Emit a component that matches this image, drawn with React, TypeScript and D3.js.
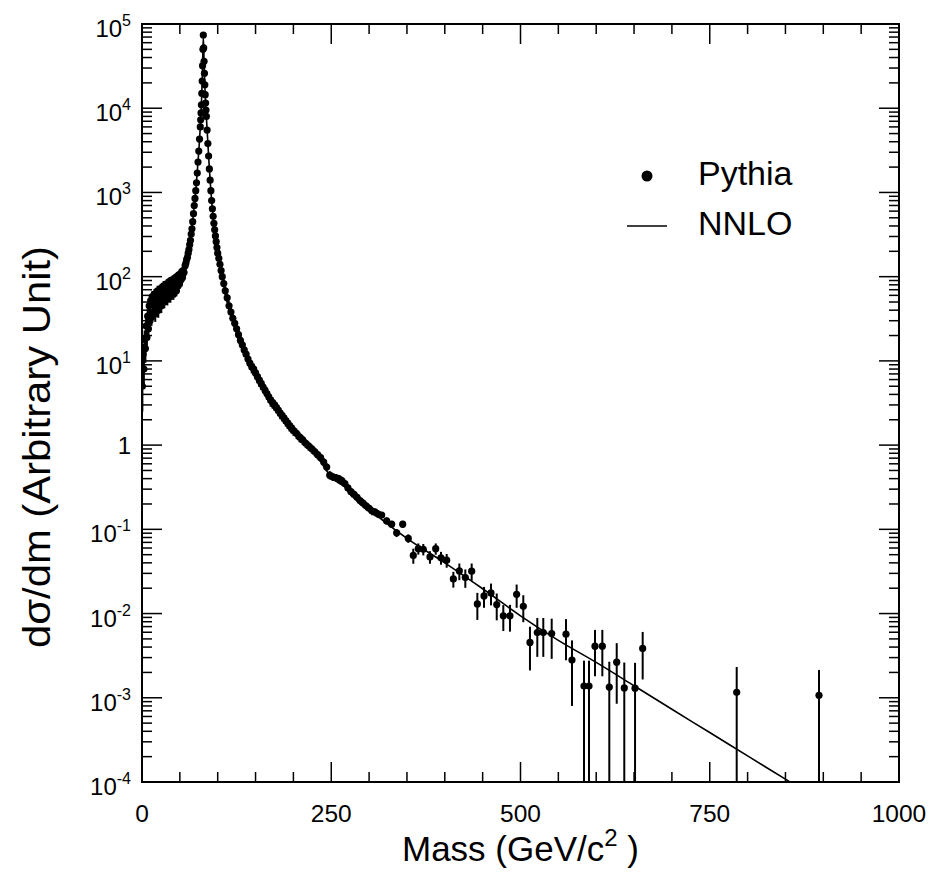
import React from 'react';
import * as d3 from 'd3';

// ---------- data (mass GeV, dσ/dm, error) ----------
const lowRegion: [number, number, number][] = [
  [0.5, 5, 2.5], [1.5, 12, 4], [2.5, 8, 3], [3.5, 18, 5], [4.5, 14, 4.5],
  [5.5, 26, 6], [6.5, 19, 5], [7.5, 34, 7], [8.5, 24, 6], [9.5, 45, 8],
  [10.5, 30, 6.5], [11.5, 52, 8.5], [12.5, 33, 7], [13.5, 58, 9], [14.5, 38, 7.5],
  [15.5, 47, 8], [16.5, 62, 9.5], [17.5, 36, 7], [18.5, 55, 9], [19.5, 44, 8],
  [20.5, 68, 10], [21.5, 40, 7.5], [22.5, 57, 9], [23.5, 48, 8], [24.5, 72, 10],
  [25.5, 45, 8], [26.5, 63, 9.5], [27.5, 52, 8.5], [28.5, 78, 10.5], [29.5, 50, 8],
  [30.5, 66, 9.5], [31.5, 56, 9], [32.5, 82, 11], [33.5, 54, 8.5], [34.5, 70, 10],
  [35.5, 60, 9], [36.5, 88, 11], [37.5, 58, 9], [38.5, 76, 10], [39.5, 64, 9.5],
  [40.5, 92, 11.5], [41.5, 62, 9], [42.5, 80, 10.5], [43.5, 70, 10], [44.5, 98, 12],
  [45.5, 68, 9.5], [46.5, 90, 11], [47.5, 78, 10.5], [48.5, 105, 12], [49.5, 82, 10.5],
  [50.5, 100, 11.5], [51.5, 92, 11], [52.5, 115, 12.5], [53.5, 98, 11.5], [54.5, 118, 12.5],
  [55.5, 112, 12],
];

const peakRegion: [number, number, number][] = [
  [57, 135, 11], [58, 145, 12], [59, 160, 12], [60, 170, 13], [61, 190, 14],
  [62, 210, 14], [63, 240, 15], [64, 270, 16], [65, 320, 18], [66, 370, 19],
  [67, 450, 21], [68, 560, 24], [69, 700, 26], [70, 850, 29], [71, 1050, 32],
  [72, 1300, 36], [73, 1700, 41], [74, 2300, 48], [75, 3100, 56], [76, 4300, 66],
  [77, 6000, 77], [77.5, 7300, 85], [78, 8800, 94], [78.5, 11000, 105], [79, 15000, 122],
  [79.5, 21000, 145], [80, 32000, 179], [80.5, 50000, 224], [81, 74000, 272],
  [81.5, 52000, 228], [82, 36000, 190], [82.5, 26000, 161], [83, 19000, 138],
  [83.5, 14500, 120], [84, 11500, 107], [84.5, 9500, 97], [85, 8000, 89],
  [86, 5500, 74], [87, 3800, 62], [88, 2700, 52], [89, 1900, 44], [90, 1400, 37],
  [91, 1050, 32], [92, 800, 28], [93, 640, 25], [94, 520, 23], [95, 430, 21],
  [96, 360, 19], [97, 305, 17], [98, 260, 16], [99, 222, 15], [100, 190, 14],
];

const fallRegion: [number, number, number][] = [
  [101.5, 165, 13], [103, 140, 12], [104.5, 118, 11], [106, 100, 10], [108, 83, 9],
  [110, 68, 8], [112.5, 56, 7], [115, 45, 6], [117.5, 38, 5.5], [120, 32, 5],
  [122.5, 28, 4.5], [125, 24, 4], [127.5, 20.5, 3.5], [130, 17.5, 3], [132.5, 15.5, 2.6],
  [135, 13.5, 2.3], [137.5, 12, 2], [140, 10.5, 1.8], [142.5, 9.4, 1.6], [145, 8.5, 1.4],
  [147.5, 8.0, 1.3], [150, 7.2, 1.2], [152.5, 6.5, 1.1], [155, 5.9, 1.0], [157.5, 5.4, 0.9],
  [160, 4.9, 0.8], [162.5, 4.5, 0.7], [165, 4.1, 0.65], [167.5, 3.75, 0.6], [170, 3.4, 0.55],
  [172.5, 3.2, 0.5], [175, 3.0, 0.45], [177.5, 2.8, 0.42], [180, 2.6, 0.4], [182.5, 2.4, 0.37],
  [185, 2.25, 0.34], [187.5, 2.1, 0.31], [190, 1.95, 0.29], [192.5, 1.82, 0.27], [195, 1.7, 0.25],
  [197.5, 1.6, 0.23], [200, 1.5, 0.21],
  [204, 1.38, 0.19], [208, 1.25, 0.17], [212, 1.16, 0.15], [216, 1.06, 0.13], [220, 0.98, 0.12],
  [224, 0.91, 0.11], [228, 0.84, 0.1], [232, 0.77, 0.09], [236, 0.71, 0.08], [240, 0.63, 0.07],
  [244, 0.55, 0.06], [248, 0.44, 0.05], [252, 0.42, 0.045], [256, 0.41, 0.044], [260, 0.40, 0.042],
  [264, 0.38, 0.04], [268, 0.35, 0.037], [272, 0.31, 0.034], [276, 0.28, 0.031], [280, 0.26, 0.029],
  [284, 0.24, 0.027], [288, 0.22, 0.025], [292, 0.205, 0.023], [296, 0.19, 0.021], [300, 0.178, 0.019],
  [304, 0.165, 0.018], [308, 0.16, 0.017], [312, 0.152, 0.016],
];

const tailRegion: [number, number, number][] = [
  [316.6, 0.148, 0.013], [323.2, 0.126, 0.012], [329.8, 0.115, 0.011], [336.4, 0.091, 0.010],
  [344.4, 0.115, 0.011], [351.8, 0.078, 0.009], [358.4, 0.049, 0.010], [365.0, 0.059, 0.009],
  [371.6, 0.058, 0.009], [380.4, 0.047, 0.008], [388.0, 0.059, 0.009], [395.0, 0.046, 0.008],
  [402.5, 0.043, 0.008], [411.3, 0.0258, 0.0055], [419.2, 0.0321, 0.0072], [427.1, 0.0268, 0.0066],
  [435.5, 0.0319, 0.0074], [443.0, 0.0130, 0.0046], [451.8, 0.0162, 0.0045], [461.0, 0.0176, 0.0051],
  [468.6, 0.0128, 0.0045], [477.3, 0.0094, 0.0032], [486.1, 0.0094, 0.0033], [494.9, 0.0169, 0.0052],
  [503.7, 0.0122, 0.0043], [512.5, 0.00454, 0.00243], [522.2, 0.00596, 0.0029], [530.1, 0.00596, 0.0029],
  [541.2, 0.0058, 0.0029], [560.1, 0.00569, 0.0029], [568.0, 0.0028, 0.002], [583.9, 0.00138, 0.00138],
  [590.5, 0.00138, 0.00138], [598.4, 0.0041, 0.0023], [608.1, 0.0041, 0.0023], [617.3, 0.00134, 0.00134],
  [627.1, 0.00265, 0.0018], [637.1, 0.00131, 0.00131], [651.3, 0.0013, 0.0013], [661.4, 0.00385, 0.0022],
  [785.6, 0.00116, 0.00116], [894.3, 0.00107, 0.00107],
];

const nnloMass = [1, 5, 10, 20, 30, 40, 50, 56, 60, 64, 68, 71, 74, 77, 79, 80, 81, 82, 83, 85, 88, 92, 96, 100, 110, 125, 150, 175, 200, 225, 250, 275, 300, 350, 400, 450, 500, 550, 600, 650, 700, 750, 800, 850, 900, 950, 1000];
const nnloValue = [6, 20, 32, 45, 55, 65, 88, 120, 170, 270, 560, 1050, 2300, 6000, 15000, 32000, 70000, 36000, 19000, 8000, 2700, 800, 360, 190, 68, 24, 7.2, 3.0, 1.5, 0.9, 0.42, 0.29, 0.175, 0.078, 0.040, 0.0197, 0.0094, 0.0048, 0.00263, 0.00139, 0.00073, 0.000387, 0.000204, 0.000108, 0.000057, 0.00003, 0.000016];

const xMajorTicks = [0, 250, 500, 750, 1000];
const yExponents = [-4, -3, -2, -1, 0, 1, 2, 3, 4, 5];

const legendItems = ['Pythia', 'NNLO'];

// ---------- layout ----------
const W = 934;
const H = 873;
const L = 142, R = 899, T = 24, B = 782;
const FONT = '"Liberation Sans", Arial, Helvetica, sans-serif';

export default function App() {
  const x = d3.scaleLinear().domain([0, 1000]).range([L, R]);
  const y = d3.scaleLog().domain([1e-4, 1e5]).range([B, T]);

  const points = [...lowRegion, ...peakRegion, ...fallRegion, ...tailRegion];

  const line = d3
    .line<number>()
    .x((_, i) => x(nnloMass[i]))
    .y((_, i) => y(nnloValue[i]))
    .curve(d3.curveMonotoneX);

  const xMinor = d3.range(0, 1001, 50).filter((v) => v % 250 !== 0);
  const yMinor: number[] = [];
  yExponents.slice(0, -1).forEach((e) => {
    for (let k = 2; k <= 9; k++) yMinor.push(k * Math.pow(10, e));
  });

  const clipY = (v: number) => (v <= 1e-4 ? B : Math.max(T, y(v)));

  return (
    <svg
      width={W}
      height={H}
      style={{ position: 'absolute', left: 0, top: 0, background: '#fff' }}
      fontFamily={FONT}
    >
      <defs>
        <clipPath id="frame">
          <rect x={L} y={T} width={R - L} height={B - T} />
        </clipPath>
      </defs>
      <rect x={0} y={0} width={W} height={H} fill="#fff" />

      {/* NNLO curve */}
      <path
        d={line(nnloValue) || ''}
        fill="none"
        stroke="#000"
        strokeWidth={1.6}
        clipPath="url(#frame)"
      />

      {/* Pythia points */}
      <g clipPath="url(#frame)">
        {points.map(([m, v, e], i) => {
          const lo = v - e;
          return (
            <line
              key={'e' + i}
              x1={x(m)}
              x2={x(m)}
              y1={clipY(v + e)}
              y2={lo > 0 ? clipY(lo) : B}
              stroke="#000"
              strokeWidth={2}
            />
          );
        })}
        {points.map(([m, v], i) => (
          <circle key={'p' + i} cx={x(m)} cy={y(v)} r={3.6} fill="#000" />
        ))}
      </g>

      {/* frame */}
      <rect x={L} y={T} width={R - L} height={B - T} fill="none" stroke="#000" strokeWidth={2} />

      {/* x ticks (bottom and top) */}
      {xMajorTicks.map((v) => (
        <g key={'xM' + v}>
          <line x1={x(v)} x2={x(v)} y1={B} y2={B - 20} stroke="#000" strokeWidth={1.5} />
          <line x1={x(v)} x2={x(v)} y1={T} y2={T + 20} stroke="#000" strokeWidth={1.5} />
          <text x={x(v)} y={822} fontSize={24.5} textAnchor="middle">
            {v}
          </text>
        </g>
      ))}
      {xMinor.map((v) => (
        <g key={'xm' + v}>
          <line x1={x(v)} x2={x(v)} y1={B} y2={B - 10} stroke="#000" strokeWidth={1.5} />
          <line x1={x(v)} x2={x(v)} y1={T} y2={T + 10} stroke="#000" strokeWidth={1.5} />
        </g>
      ))}

      {/* y ticks (left and right) */}
      {yExponents.map((e) => {
        const yy = y(Math.pow(10, e));
        return (
          <g key={'yM' + e}>
            <line x1={L} x2={L + 20} y1={yy} y2={yy} stroke="#000" strokeWidth={1.5} />
            <line x1={R} x2={R - 20} y1={yy} y2={yy} stroke="#000" strokeWidth={1.5} />
            {e === 0 ? (
              <text x={131} y={yy + 8.5} fontSize={24} textAnchor="end">
                1
              </text>
            ) : (
              <text x={131} y={yy + 13} fontSize={24} textAnchor="end">
                <tspan>10</tspan>
                <tspan dy={-11} fontSize={16}>
                  {e < 0 ? '-' + Math.abs(e) : String(e)}
                </tspan>
              </text>
            )}
          </g>
        );
      })}
      {yMinor.map((v, i) => (
        <g key={'ym' + i}>
          <line x1={L} x2={L + 10} y1={y(v)} y2={y(v)} stroke="#000" strokeWidth={1.5} />
          <line x1={R} x2={R - 10} y1={y(v)} y2={y(v)} stroke="#000" strokeWidth={1.5} />
        </g>
      ))}

      {/* axis titles */}
      <text x={(L + R) / 2} y={861} fontSize={35} textAnchor="middle">
        <tspan>Mass (GeV/c</tspan>
        <tspan dy={-15} fontSize={24}>2</tspan>
        <tspan dy={15}> )</tspan>
      </text>
      <text
        transform={`translate(50, 447) rotate(-90) scale(1.1, 1)`}
        fontSize={38}
        textAnchor="middle"
      >
        dσ/dm (Arbitrary Unit)
      </text>

      {/* legend */}
      <circle cx={647} cy={176} r={5.5} fill="#000" />
      <text x={698} y={185} fontSize={34}>
        {legendItems[0]}
      </text>
      <line x1={627} x2={667} y1={226} y2={226} stroke="#000" strokeWidth={1.6} />
      <text x={698} y={235} fontSize={34}>
        {legendItems[1]}
      </text>
    </svg>
  );
}
